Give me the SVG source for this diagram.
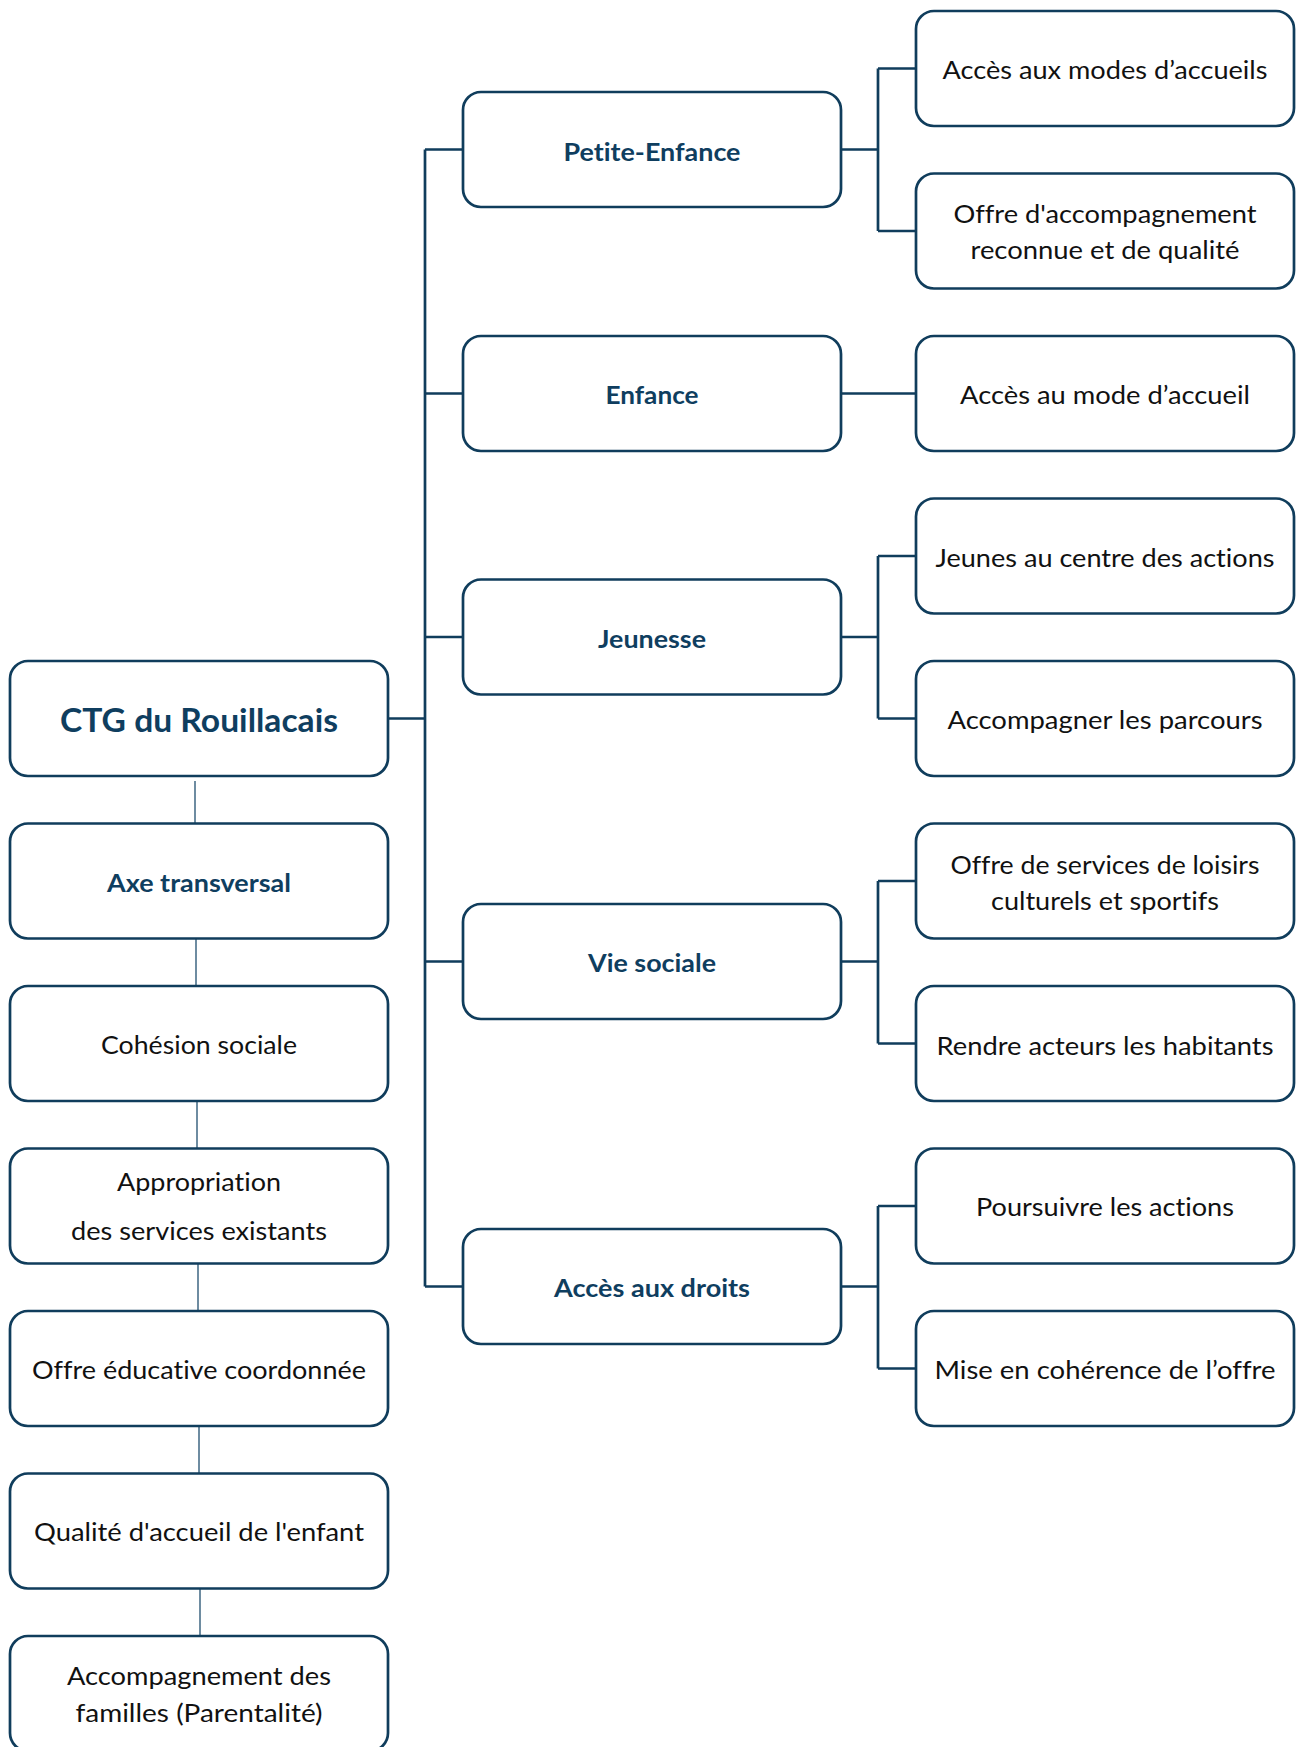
<svg xmlns="http://www.w3.org/2000/svg" width="1296" height="1747" viewBox="0 0 1296 1747">
<style>
  .box { fill: #ffffff; stroke: #103d5c; stroke-width: 2.7; }
  .conn { fill: none; stroke: #103d5c; stroke-width: 2.7; }
  .thin { fill: none; stroke: #3f6782; stroke-width: 1.5; }
  .t { font-family: Lato, "Open Sans", "Liberation Sans", sans-serif; font-size: 25px; fill: #111111; text-anchor: middle; font-variant-ligatures: none; font-feature-settings: "liga" 0, "dlig" 0; }
  .b { font-family: Lato, "Open Sans", "Liberation Sans", sans-serif; font-size: 25px; font-weight: bold; fill: #0f3e5f; text-anchor: middle; font-variant-ligatures: none; font-feature-settings: "liga" 0, "dlig" 0; }
  .big { font-size: 33px; }
</style>
<rect width="1296" height="1747" fill="#ffffff"/>

<g id="connectors">
  <path class="conn" d="M425 149.5 V1286.5" stroke-width="3"/>
  <path class="conn" d="M388 718.5 H425"/>
  <path class="conn" d="M425 149.5 H463 M425 393.5 H463 M425 637 H463 M425 961.5 H463 M425 1286.5 H463"/>
  <path class="conn" d="M841 149.5 H878 M878 68.5 V231 M878 68.5 H916 M878 231 H916"/>
  <path class="conn" d="M841 393.5 H916"/>
  <path class="conn" d="M841 637 H878 M878 556 V718.5 M878 556 H916 M878 718.5 H916"/>
  <path class="conn" d="M841 961.5 H878 M878 881 V1043.5 M878 881 H916 M878 1043.5 H916"/>
  <path class="conn" d="M841 1286.5 H878 M878 1206 V1368.5 M878 1206 H916 M878 1368.5 H916"/>
  <path class="thin" d="M195 781 V823.5 M196 938.5 V986 M197 1101 V1148.5 M198 1263.5 V1311 M199 1426 V1473.5 M200 1588.5 V1636"/>
</g>

<g id="ctg">
  <rect class="box" x="10" y="661" width="378" height="115" rx="18"/>
  <text class="b big" x="199" y="731.5" textLength="278" lengthAdjust="spacingAndGlyphs">CTG du Rouillacais</text>
</g>
<g id="axe-transversal">
  <rect class="box" x="10" y="823.5" width="378" height="115" rx="18"/>
  <text class="b" x="199" y="891.5" textLength="184" lengthAdjust="spacingAndGlyphs">Axe transversal</text>
</g>
<g id="cohesion-sociale">
  <rect class="box" x="10" y="986" width="378" height="115" rx="18"/>
  <text class="t" x="199" y="1054" textLength="196" lengthAdjust="spacingAndGlyphs">Cohésion sociale</text>
</g>
<g id="appropriation">
  <rect class="box" x="10" y="1148.5" width="378" height="115" rx="18"/>
  <text class="t" x="199" y="1191" textLength="164" lengthAdjust="spacingAndGlyphs">Appropriation</text>
  <text class="t" x="199" y="1240" textLength="256" lengthAdjust="spacingAndGlyphs">des services existants</text>
</g>
<g id="offre-educative">
  <rect class="box" x="10" y="1311" width="378" height="115" rx="18"/>
  <text class="t" x="199" y="1378.5" textLength="334" lengthAdjust="spacingAndGlyphs">Offre éducative coordonnée</text>
</g>
<g id="qualite-accueil">
  <rect class="box" x="10" y="1473.5" width="378" height="115" rx="18"/>
  <text class="t" x="199" y="1540.5" textLength="330" lengthAdjust="spacingAndGlyphs">Qualité d'accueil de l'enfant</text>
</g>
<g id="accompagnement-familles">
  <rect class="box" x="10" y="1636" width="378" height="115" rx="18"/>
  <text class="t" x="199" y="1685" textLength="264" lengthAdjust="spacingAndGlyphs">Accompagnement des</text>
  <text class="t" x="199" y="1721.5" textLength="247" lengthAdjust="spacingAndGlyphs">familles (Parentalité)</text>
</g>

<g id="petite-enfance">
  <rect class="box" x="463" y="92" width="378" height="115" rx="18"/>
  <text class="b" x="652" y="161" textLength="177" lengthAdjust="spacingAndGlyphs">Petite-Enfance</text>
</g>
<g id="enfance">
  <rect class="box" x="463" y="336" width="378" height="115" rx="18"/>
  <text class="b" x="652" y="403.5" textLength="93" lengthAdjust="spacingAndGlyphs">Enfance</text>
</g>
<g id="jeunesse">
  <rect class="box" x="463" y="579.5" width="378" height="115" rx="18"/>
  <text class="b" x="652" y="647.5" textLength="108" lengthAdjust="spacingAndGlyphs">Jeunesse</text>
</g>
<g id="vie-sociale">
  <rect class="box" x="463" y="904" width="378" height="115" rx="18"/>
  <text class="b" x="652" y="972" textLength="128" lengthAdjust="spacingAndGlyphs">Vie sociale</text>
</g>
<g id="acces-droits">
  <rect class="box" x="463" y="1229" width="378" height="115" rx="18"/>
  <text class="b" x="652" y="1297" textLength="196" lengthAdjust="spacingAndGlyphs">Accès aux droits</text>
</g>

<g id="acces-modes-accueils">
  <rect class="box" x="916" y="11" width="378" height="115" rx="18"/>
  <text class="t" x="1105" y="79" textLength="325" lengthAdjust="spacingAndGlyphs">Accès aux modes d’accueils</text>
</g>
<g id="offre-accompagnement">
  <rect class="box" x="916" y="173.5" width="378" height="115" rx="18"/>
  <text class="t" x="1105" y="222.5" textLength="303" lengthAdjust="spacingAndGlyphs">Offre d'accompagnement</text>
  <text class="t" x="1105" y="258.5" textLength="269" lengthAdjust="spacingAndGlyphs">reconnue et de qualité</text>
</g>
<g id="acces-mode-accueil">
  <rect class="box" x="916" y="336" width="378" height="115" rx="18"/>
  <text class="t" x="1105" y="403.5" textLength="290" lengthAdjust="spacingAndGlyphs">Accès au mode d’accueil</text>
</g>
<g id="jeunes-centre">
  <rect class="box" x="916" y="498.5" width="378" height="115" rx="18"/>
  <text class="t" x="1105" y="566.5" textLength="339" lengthAdjust="spacingAndGlyphs">Jeunes au centre des actions</text>
</g>
<g id="accompagner-parcours">
  <rect class="box" x="916" y="661" width="378" height="115" rx="18"/>
  <text class="t" x="1105" y="729" textLength="315" lengthAdjust="spacingAndGlyphs">Accompagner les parcours</text>
</g>
<g id="offre-loisirs">
  <rect class="box" x="916" y="823.5" width="378" height="115" rx="18"/>
  <text class="t" x="1105" y="873.5" textLength="309" lengthAdjust="spacingAndGlyphs">Offre de services de loisirs</text>
  <text class="t" x="1105" y="909.5" textLength="228" lengthAdjust="spacingAndGlyphs">culturels et sportifs</text>
</g>
<g id="rendre-acteurs">
  <rect class="box" x="916" y="986" width="378" height="115" rx="18"/>
  <text class="t" x="1105" y="1054.5" textLength="337" lengthAdjust="spacingAndGlyphs">Rendre acteurs les habitants</text>
</g>
<g id="poursuivre-actions">
  <rect class="box" x="916" y="1148.5" width="378" height="115" rx="18"/>
  <text class="t" x="1105" y="1216" textLength="258" lengthAdjust="spacingAndGlyphs">Poursuivre les actions</text>
</g>
<g id="mise-coherence">
  <rect class="box" x="916" y="1311" width="378" height="115" rx="18"/>
  <text class="t" x="1105" y="1379" textLength="341" lengthAdjust="spacingAndGlyphs">Mise en cohérence de l’offre</text>
</g>
</svg>
